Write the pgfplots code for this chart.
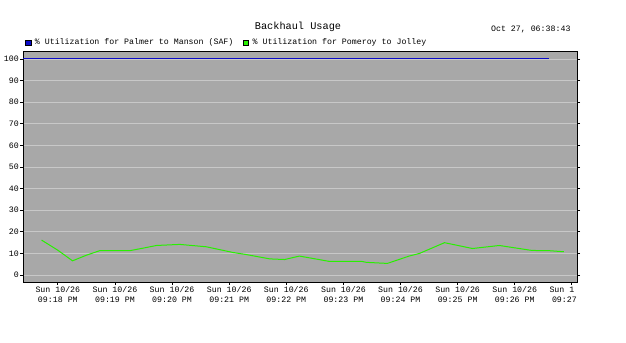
\documentclass[border=0pt]{standalone}
\usepackage{pgfplots}
\pgfplotsset{compat=1.18}
\usepackage{fontspec}
\setmainfont{Liberation Mono}
\setmonofont{Liberation Mono}
\definecolor{bgc}{RGB}{168,168,168}
\definecolor{gridc}{RGB}{200,200,200}
\definecolor{blu}{RGB}{10,10,200}
\definecolor{grn}{RGB}{40,240,0}
\newcommand{\sm}{\fontsize{8.3}{10}\selectfont}
\begin{document}
\begin{tikzpicture}
\fill[white] (0,0) rectangle (626bp,-343bp);
\useasboundingbox (0,0) rectangle (626bp,-343bp);
\node[font=\fontsize{10.3}{12}\selectfont] at (298bp,-27bp) {Backhaul Usage};
\node[anchor=east, font=\sm] at (574bp,-29bp) {Oct 27, 06:38:43};
\begin{axis}[
  at={(23bp,-51bp)}, anchor=north west,
  scale only axis, width=554bp, height=231bp,
  axis background/.style={fill=bgc},
  xmin=-0.61, xmax=9.09, ymin=-3.2, ymax=103.7,
  ytick={0,10,...,100},
  xtick={0,1,...,9},
  xticklabels={{Sun 10/26\\09:18 PM},{Sun 10/26\\09:19 PM},{Sun 10/26\\09:20 PM},{Sun 10/26\\09:21 PM},{Sun 10/26\\09:22 PM},{Sun 10/26\\09:23 PM},{Sun 10/26\\09:24 PM},{Sun 10/26\\09:25 PM},{Sun 10/26\\09:26 PM},{Sun 1\phantom{0/26}\\09:27\phantom{ PM}}},
  xticklabel style={align=center, font=\sm, inner sep=1bp},
  yticklabel style={font=\sm, inner sep=1bp},
  /pgf/number format/assume math mode=true,
  ymajorgrids, grid style={color=gridc, line width=0.8bp},
  tick align=outside, major tick length=3bp,
  xtick pos=lower, ytick pos=both,
  tick style={black, line width=0.8bp},
  axis line style={black, line width=0.9bp},
  legend columns=2,
  legend style={at={(0,1)}, anchor=south west, yshift=1bp, xshift=-1bp, draw=none, fill=none, font=\sm,
    nodes={inner sep=1.5bp},
    /tikz/every even column/.append style={column sep=8bp}},
  legend cell align=left,
]
\addplot[color=blu, line width=1bp, legend image code/.code={\draw[fill=blu,draw=black,line width=0.5bp] (0,-2.7bp) rectangle (5.5bp,2.7bp); \path (7.5bp,0);}]
  coordinates {(-0.61,100) (8.6,100)};
\addlegendentry{\% Utilization for Palmer to Manson (SAF)}
\addplot[color=grn, line width=1bp, legend image code/.code={\draw[fill=grn,draw=black,line width=0.5bp] (0,-2.7bp) rectangle (5.5bp,2.7bp); \path (7.5bp,0);}]
  coordinates {
(-0.285,16.2)
(0.0,11.5)
(0.257,6.6)
(0.5,9.2)
(0.734,11.3)
(1.259,11.3)
(1.5,12.5)
(1.726,13.7)
(2.133,14.2)
(2.6,13.1)
(3.06,10.5)
(3.30,9.5)
(3.71,7.5)
(3.97,7.2)
(4.23,8.8)
(4.55,7.3)
(4.76,6.3)
(5.33,6.3)
(5.40,5.9)
(5.77,5.4)
(6.15,8.8)
(6.33,10.0)
(6.55,12.5)
(6.77,15.0)
(7.26,12.3)
(7.73,13.7)
(8.30,11.4)
(8.60,11.3)
(8.86,10.8)
};
\addlegendentry{\% Utilization for Pomeroy to Jolley}
\end{axis}
\end{tikzpicture}
\end{document}
